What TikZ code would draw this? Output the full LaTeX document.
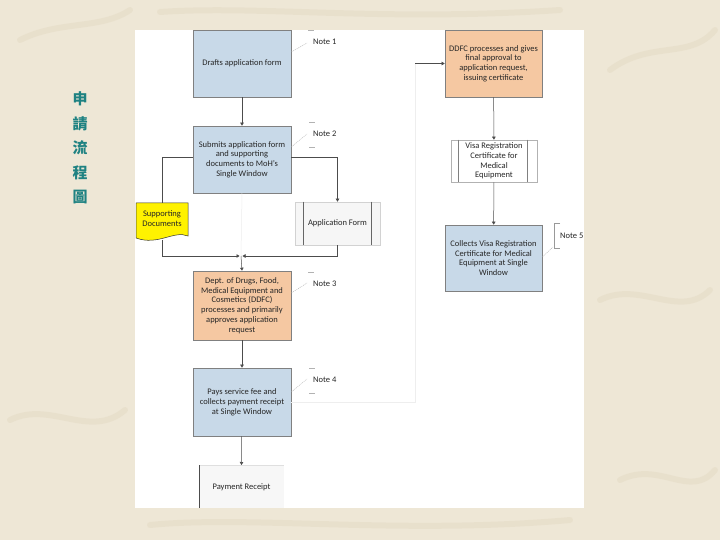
\documentclass[tikz,border=0pt]{standalone}
\usepackage{fontspec}
\setmainfont{Carlito}
\newfontfamily\cjk{Noto Sans CJK TC}
\usetikzlibrary{arrows.meta}
\definecolor{bg}{HTML}{EEE7D6}
\definecolor{bgdark}{HTML}{E4DAC4}
\definecolor{boxblue}{HTML}{C8D9E8}
\definecolor{boxorange}{HTML}{F5C8A2}
\definecolor{edgegray}{HTML}{808080}
\definecolor{cjkteal}{HTML}{1F8282}
\definecolor{docyellow}{HTML}{FFF200}
\begin{document}
\begin{tikzpicture}[x=1pt,y=-1pt,
  proc/.style={draw=edgegray, line width=0.6pt, align=center,
    font=\fontsize{8.5}{9.8}\selectfont, inner sep=1pt, text=black!85},
  bluebox/.style={proc, fill=boxblue},
  orangebox/.style={proc, fill=boxorange},
  graybox/.style={proc, draw=gray!35, fill=gray!7},
  wire/.style={draw=black!70, line width=0.5pt},
  conn/.style={wire, -{Triangle[width=3.5pt,length=3pt]}},
  faint/.style={draw=gray!13, line width=0.5pt},
  notetext/.style={font=\fontsize{8.5}{9}\selectfont, anchor=west, inner sep=0pt, text=black!85},
  callout/.style={draw=gray!70, line width=0.3pt, dash pattern=on 1.2pt off 0.8pt},
  tick/.style={draw=gray!60, line width=0.4pt}
]
\useasboundingbox (0,0) rectangle (720,540);
\fill[bg] (0,0) rectangle (720,540);
% subtle background motifs
\begin{scope}[bgdark, line width=6pt, line cap=round, opacity=0.5]
  \draw (20,40) .. controls (60,20) and (100,30) .. (130,10);
  \draw (610,70) .. controls (650,40) and (690,60) .. (715,30);
  \draw (600,300) .. controls (640,280) and (680,320) .. (710,290);
  \draw (10,420) .. controls (50,400) and (90,440) .. (125,410);
  \draw (620,480) .. controls (660,460) and (690,500) .. (715,470);
  \draw (150,525) .. controls (250,515) and (400,535) .. (570,520);
  \draw (160,12) .. controls (260,5) and (380,22) .. (560,10);
\end{scope}
\fill[white] (135,30) rectangle (584,508);

% Chinese title
\node[font=\cjk\bfseries\fontsize{15}{24.5}\selectfont, text=cjkteal, align=center, inner sep=0pt]
  (title) at (80,148) {申\\請\\流\\程\\圖};

\coordinate (turn) at (415,63.5);
\coordinate (merge) at (241,256);

% Left column
\node[bluebox, minimum width=98pt, minimum height=67pt] (drafts) at (242,63.5) {Drafts application form};
\node[bluebox, minimum width=98pt, minimum height=67pt] (submit) at (242,159.5)
  {Submits application form\\and supporting\\documents to MoH's\\Single Window};
\node[orangebox, minimum width=98pt, minimum height=69pt] (ddfca) at (242,305.5)
  {Dept. of Drugs, Food,\\Medical Equipment and\\Cosmetics (DDFC)\\processes and primarily\\approves application\\request};
\node[bluebox, minimum width=98pt, minimum height=68pt] (pays) at (242,402)
  {Pays service fee and\\collects payment receipt\\at Single Window};

% faint connectors
\draw[faint] (submit.south) -- (merge);
\draw[faint] (pays.east) -| (turn);

% Supporting documents (document shape)
\coordinate (suppN) at (162,203);
\coordinate (suppS) at (162,240);
\draw[draw=black!80, line width=0.5pt, fill=docyellow]
  (136,203) -- (188,203) -- (188,236)
  .. controls (174,230) and (158,246) .. (136,238) -- cycle;
\node[align=center, font=\fontsize{8.5}{10}\selectfont, text=black!85, inner sep=0pt]
  (supptext) at (162,219) {Supporting\\Documents};

% Application Form
\node[graybox, minimum width=85pt, minimum height=43pt] (appform) at (337.5,223.5) {Application Form};
\draw[draw=black!60, line width=0.6pt] ([xshift=9pt]appform.north west) -- ([xshift=9pt]appform.south west);
\draw[draw=black!60, line width=0.6pt] ([xshift=-9pt]appform.north east) -- ([xshift=-9pt]appform.south east);

% Payment receipt (cut by page)
\coordinate (recN) at (241.5,465);
\fill[gray!6] (199,465) rectangle (284,508);
\draw[gray!25, line width=0.4pt] (199,465) -- (284,465);
\draw[black!70, line width=0.6pt] (199,465) -- (199,508);
\node[font=\fontsize{8.5}{9}\selectfont, text=black!85, inner sep=0pt] (receipt) at (241.5,487) {Payment Receipt};

% Right column
\node[orangebox, minimum width=97pt, minimum height=67pt] (final) at (493.5,63.5)
  {DDFC processes and gives\\final approval to\\application request,\\issuing certificate};
\node[proc, fill=white, draw=gray!60, minimum width=86pt, minimum height=42pt] (visa) at (494,161)
  {Visa Registration\\Certificate for\\Medical\\Equipment};
\draw[draw=black!50, line width=0.5pt] ([xshift=8pt]visa.north west) -- ([xshift=8pt]visa.south west);
\draw[draw=black!50, line width=0.5pt] ([xshift=-10pt]visa.north east) -- ([xshift=-10pt]visa.south east);
\node[bluebox, minimum width=97pt, minimum height=66pt] (collects) at (493.5,258)
  {Collects Visa Registration\\Certificate for Medical\\Equipment at Single\\Window};

% Connectors
\draw[conn] (drafts) -- (submit);
\draw[wire] ([yshift=2pt]submit.west) -| (suppN);
\draw[conn] ([yshift=2pt]submit.east) -| (appform.north);
\draw[conn] (suppS) |- ([xshift=-1.5pt]merge);
\draw[conn] (appform.south) |- ([xshift=1.5pt]merge);
\draw[conn] (merge) -- (ddfca.north);
\draw[conn] (ddfca) -- (pays);
\draw[conn] (pays) -- (recN);
\draw[conn] (turn) -- (final.west);
\draw[conn] (final) -- (visa);
\draw[conn] (visa) -- (collects);

% Notes
\node[notetext] (n1) at (313,42) {Note 1};
\draw[callout] (drafts.east |- 0,52) -- (307,43);
\draw[tick] (308,30) -- (314,30);

\node[notetext] (n2) at (313,134) {Note 2};
\draw[callout] (submit.east |- 0,147) -- (307,134);
\draw[tick] (309,122) -- (315,122);
\draw[tick] (309,147) -- (315,147);

\node[notetext] (n3) at (313,284) {Note 3};
\draw[callout] (ddfca.east |- 0,293) -- (307,283);
\draw[tick] (308,272) -- (314,272);

\node[notetext] (n4) at (313,380) {Note 4};
\draw[callout] (pays.east |- 0,392) -- (307,379);
\draw[tick] (309,368) -- (315,368);
\draw[tick] (309,393) -- (315,393);

\node[notetext] (n5) at (560,236) {Note 5};
\draw[callout] (collects.east |- 0,257) -- (553,247);
\draw[gray!80, line width=0.5pt] (560,223) -- (554,223) -- (554,248) -- (560,248);
\end{tikzpicture}
\end{document}
